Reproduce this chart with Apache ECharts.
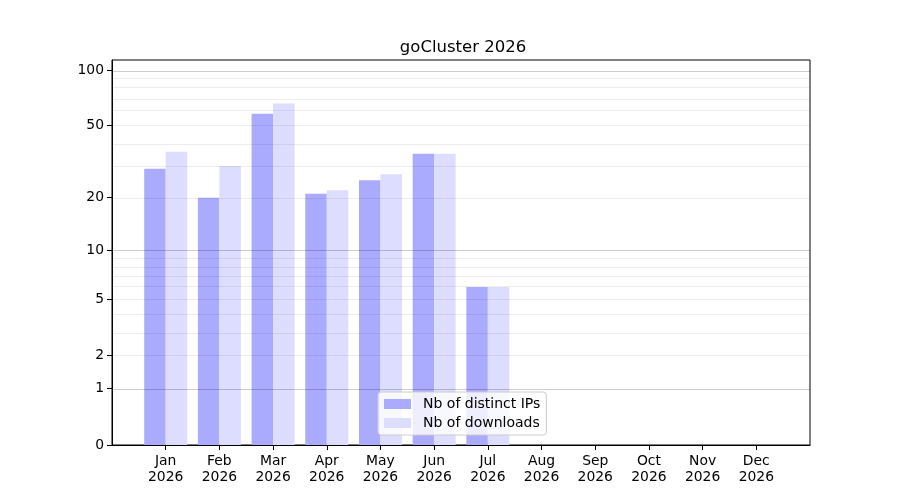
<!DOCTYPE html>
<html>
<head>
<meta charset="utf-8">
<style>
    body{
        margin:0;
        background:white;
    }
    #main{
        width:900px;
        height:500px;
    }
</style>
<script src="https://cdn.jsdelivr.net/npm/echarts@6/dist/echarts.min.js"></script>
</head>
<body>
<div id="main"></div>
<script>
    // data
    var months = ['Jan','Feb','Mar','Apr','May','Jun','Jul','Aug','Sep','Oct','Nov','Dec'];
    var year = '2026';
    var ipCounts = [29, 20, 58, 21, 25, 35, 6, 0, 0, 0, 0, 0];
    var downloadCounts = [36, 30, 66, 22, 27, 35, 6, 0, 0, 0, 0, 0];
    var yTickLabels = [0, 1, 2, 5, 10, 20, 50, 100];
    var majorGrid = [1, 10, 100];
    var minorGrid = [2, 3, 4, 5, 6, 7, 8, 9, 20, 30, 40, 50, 60, 70, 80, 90];

    // y scale is log10(1 + v), like the original symlog-ish axis
    function tf(v){ return Math.log10(1 + v); }
    function itf(t){ return Math.round(Math.pow(10, t) - 1); }

    // one empty slot on each side so the month ticks sit like the original
    var cats = [''].concat(months.map(function(m){ return m + '\n' + year; })).concat(['']);
    function pad(arr){ return [null].concat(arr.map(tf)).concat([null]); }

    var gridLines = [];
    majorGrid.forEach(function(v){
        gridLines.push({yAxis: tf(v), lineStyle: {color: 'rgba(0,0,0,0.2)', width: 1, type: 'solid'}});
    });
    minorGrid.forEach(function(v){
        gridLines.push({yAxis: tf(v), lineStyle: {color: 'rgba(0,0,0,0.07)', width: 1, type: 'solid'}});
    });

    var font = 'DejaVu Sans';
    var myChart = echarts.init(document.getElementById('main'));
    var option = {
        backgroundColor: '#fff',
        animation: false,
        textStyle: {fontFamily: font},
        title: {
            text: 'goCluster ' + year,
            left: 458,
            textAlign: 'center',
            top: 34,
            textStyle: {fontFamily: font, fontSize: 16.5, fontWeight: 'normal', color: '#000'}
        },
        legend: {
            orient: 'vertical',
            left: 378,
            top: 392,
            data: ['Nb of distinct IPs', 'Nb of downloads'],
            icon: 'rect',
            itemWidth: 27,
            itemHeight: 10,
            itemGap: 5,
            padding: [5, 6, 5, 6],
            borderColor: '#cccccc',
            borderWidth: 1,
            borderRadius: 3,
            backgroundColor: 'rgba(255,255,255,0.8)',
            textStyle: {fontFamily: font, fontSize: 14, color: '#000', padding: [0, 0, 0, 7]}
        },
        grid: {
            left: 112,
            right: 90,
            top: 60,
            bottom: 55,
            show: true,
            borderColor: '#000',
            borderWidth: 1,
            containLabel: false
        },
        xAxis: {
            type: 'category',
            data: cats,
            boundaryGap: false,
            axisLine: {lineStyle: {color: '#000', width: 1}},
            axisTick: {
                length: 5,
                lineStyle: {color: '#000'},
                interval: function(i){ return i > 0 && i < cats.length - 1; }
            },
            axisLabel: {
                interval: 0,
                margin: 8,
                color: '#000',
                fontFamily: font,
                fontSize: 13.9,
                lineHeight: 16
            },
            splitLine: {show: false}
        },
        yAxis: {
            type: 'value',
            min: 0,
            max: 2.058,
            axisLine: {show: true, lineStyle: {color: '#000', width: 1}},
            axisTick: {show: true, length: 5, lineStyle: {color: '#000'}, customValues: yTickLabels.map(tf)},
            axisLabel: {
                color: '#000',
                fontFamily: font,
                fontSize: 13.9,
                margin: 8,
                customValues: yTickLabels.map(tf),
                formatter: function(v){ return String(itf(v)); }
            },
            splitLine: {show: false}
        },
        series: [{
            name: 'Nb of distinct IPs',
            type: 'bar',
            data: pad(ipCounts),
            barWidth: '40%',
            barGap: '0%',
            itemStyle: {color: '#aaaaff'},
            z: 2
        }, {
            name: 'Nb of downloads',
            type: 'bar',
            data: pad(downloadCounts),
            barWidth: '40%',
            barGap: '0%',
            itemStyle: {color: '#ddddff'},
            z: 2
        }, {
            name: 'grid',
            type: 'line',
            data: [],
            z: 3,
            silent: true,
            markLine: {
                silent: true,
                symbol: 'none',
                label: {show: false},
                animation: false,
                data: gridLines
            }
        }]
    };
    myChart.setOption(option);
</script>
</body>
</html>
